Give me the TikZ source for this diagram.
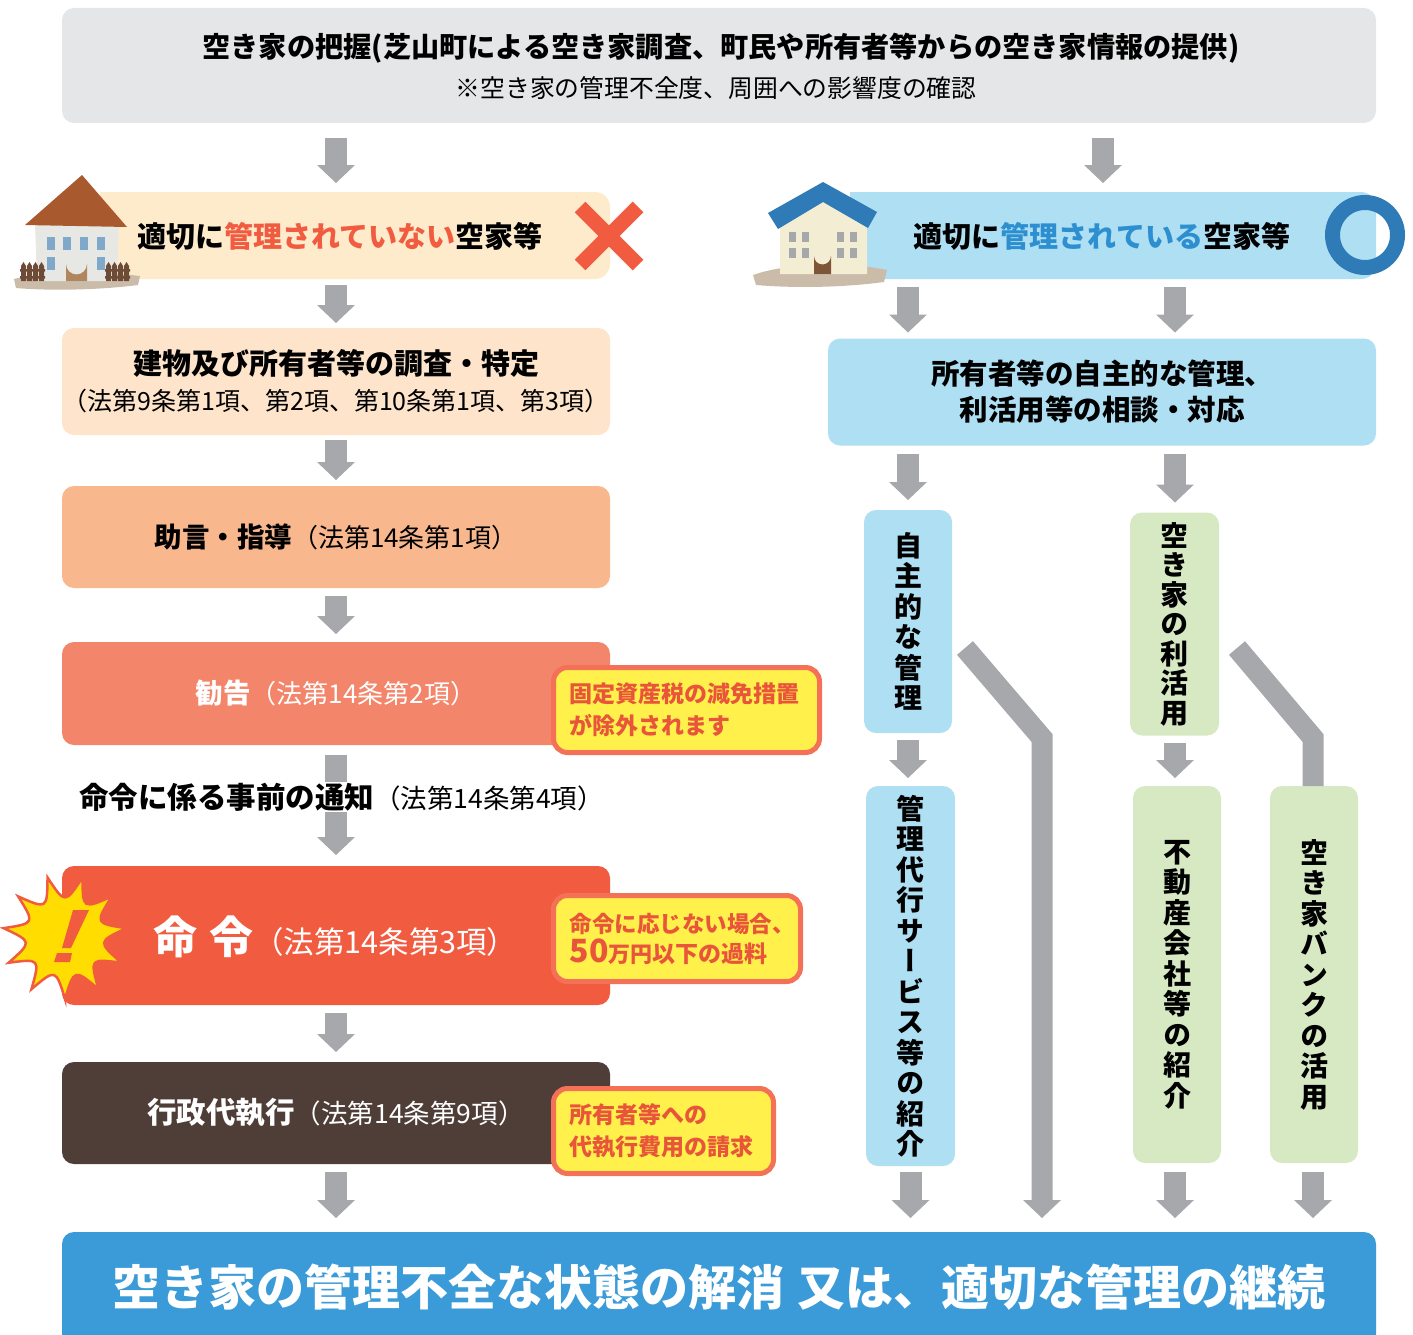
\documentclass[tikz,border=0pt]{standalone}
\usepackage{fontspec}
\setmainfont{Noto Sans CJK JP}
\newfontfamily\vfont{Noto Sans CJK JP}[RawFeature=+vert]
\usetikzlibrary{arrows.meta}

\definecolor{topgray}{HTML}{E5E6E8}
\definecolor{creamband}{HTML}{FEEBCB}
\definecolor{peachA}{HTML}{FDE4CB}
\definecolor{peachB}{HTML}{F9B78E}
\definecolor{salmon}{HTML}{F3866A}
\definecolor{alertred}{HTML}{F15B40}
\definecolor{darkbrown}{HTML}{4F3E38}
\definecolor{skyband}{HTML}{AEDFF3}
\definecolor{leafband}{HTML}{D6E9C3}
\definecolor{resultblue}{HTML}{3A9BD8}
\definecolor{arrowgray}{HTML}{A7A8AC}
\definecolor{ringblue}{HTML}{2F7BB7}
\definecolor{keyblue}{HTML}{2E8FD0}
\definecolor{noteyellow}{HTML}{FFF04B}
\definecolor{noteedge}{HTML}{F47157}
\definecolor{notetext}{HTML}{E8553A}
\definecolor{burstyellow}{HTML}{FFDD00}
\definecolor{roofbrown}{HTML}{A85A2E}
\definecolor{wallgray}{HTML}{E7E8E4}
\definecolor{winblue}{HTML}{7FA8CA}
\definecolor{doortan}{HTML}{B0865F}
\definecolor{fencebrown}{HTML}{6E4B36}
\definecolor{soil}{HTML}{CBBCAA}
\definecolor{wallcream}{HTML}{F3EDD3}
\definecolor{doorbrown}{HTML}{7E5536}

\begin{document}
\begin{tikzpicture}[x=1pt,y=-1pt,
  panel/.style={rounded corners=12, inner sep=0, outer sep=0, align=center},
  vpanel/.style={panel, font=\fontsize{28}{30.5}\selectfont\bfseries\vfont},
  note/.style={rounded corners=14, draw=noteedge, line width=5, fill=noteyellow,
    inner sep=0, outer sep=0},
  notetxt/.style={anchor=west, align=left, text=notetext,
    font=\fontsize{23}{32}\selectfont\bfseries},
  garrow/.style={draw=arrowgray, line width=22, line cap=butt, line join=miter,
    -{Triangle[width=38pt,length=18pt,line width=0pt]}},
  gbar/.style={draw=arrowgray, line width=21, line cap=butt, line join=miter},
]
\useasboundingbox (0,0) rectangle (1413,1335);
\clip (0,0) rectangle (1413,1335);

% column positions
\coordinate (colL) at (336,0);
\coordinate (colR) at (1103,0);
\coordinate (colA) at (908,0);
\coordinate (colB) at (1175,0);
\coordinate (colC) at (1313,0);

% ---------- top panel ----------
\node[panel, fill=topgray, minimum width=1314, minimum height=115] (survey) at (719,65.5) {};
\node (surveyA) at (721,48) {\fontsize{28.2}{30}\selectfont\bfseries 空き家の把握(芝山町による空き家調査、町民や所有者等からの空き家情報の提供)};
\node (surveyB) at (716,88) {\fontsize{24.8}{26}\selectfont ※空き家の管理不全度、周囲への影響度の確認};

% ---------- left band ----------
\node[panel, rounded corners=15, fill=creamband, minimum width=510, minimum height=87] (bandL) at (355,235.5) {};
\fill[creamband] (bandL.north west) rectangle ([xshift=60]bandL.south west);
\node (bandLtext) at (340,236) {\fontsize{29}{32}\selectfont\bfseries 適切に\textcolor{alertred}{管理されていない}空家等};
\draw[alertred, line width=15, line cap=butt] (580,207) -- (638,265) (638,207) -- (580,265);

% left house
\fill[soil] (14,279) .. controls (40,272) and (100,271) .. (140,276) -- (138,285)
  .. controls (100,290) and (50,291) .. (16,288) -- cycle;
\fill[wallgray] (35,222) -- (119,224) -- (117,281) -- (37,281) -- cycle;
\fill[roofbrown] (82,175) -- (127,227) -- (25,225) -- cycle;
\foreach \wx in {47,63,80,97} \fill[winblue] (\wx,237) rectangle ++(8,13);
\foreach \wx in {47,97} \fill[winblue] (\wx,257) rectangle ++(8,13);
\fill[doortan] (66,281) -- (66,264) arc[start angle=180, end angle=0, radius=10.5] -- (87,281) -- cycle;
\foreach \fx in {21,27,33,39,106,112,118,124}
  \fill[fencebrown] (\fx,281) -- (\fx,266) -- (\fx+2.5,262) -- (\fx+5,266) -- (\fx+5,281) -- cycle;
\fill[fencebrown] (20,269) rectangle (45,271.5) (20,276) rectangle (45,278.5);
\fill[fencebrown] (105,269) rectangle (130,271.5) (105,276) rectangle (130,278.5);

% ---------- right band ----------
\node[panel, rounded corners=15, fill=skyband, minimum width=526, minimum height=87] (bandR) at (1113,235.5) {};
\fill[skyband] (bandR.north west) rectangle ([xshift=60]bandR.south west);
\node (bandRtext) at (1102,236) {\fontsize{29}{32}\selectfont\bfseries 適切に\textcolor{keyblue}{管理されている}空家等};
\draw[ringblue, line width=15] (1365,235) circle[radius=32.5];

% right house
\fill[soil] (753,275) .. controls (790,262) and (850,262) .. (887,270) -- (884,282)
  .. controls (840,288) and (790,288) .. (756,285) -- cycle;
\fill[wallcream] (780,226) -- (823,200) -- (867,226) -- (867,274) -- (780,274) -- cycle;
\fill[ringblue] (823,182) -- (877,212) -- (868,228) -- (823,202) -- (778,229) -- (768,213) -- cycle;
\foreach \wx in {789,802,837,850} {
  \fill[arrowgray] (\wx,232) rectangle ++(6.5,10);
  \fill[arrowgray] (\wx,248) rectangle ++(6.5,10);
}
\fill[doorbrown] (814,274) -- (814,256) arc[start angle=180, end angle=0, radius=8.5] -- (831,274) -- cycle;

% ---------- left column ----------
\node[panel, fill=peachA, minimum width=548, minimum height=107,
  font=\fontsize{25}{36}\selectfont] (probe) at (336,381.5)
  {{\fontsize{29}{36}\selectfont\bfseries 建物及び所有者等の調査・特定}\\
   （法第9条第1項、第2項、第10条第1項、第3項）};
\node[panel, fill=peachB, minimum width=548, minimum height=102] (advice) at (336,537)
  {{\fontsize{27.5}{30}\selectfont\bfseries 助言・指導}\fontsize{26}{30}\selectfont（法第14条第1項）};
\node[panel, fill=salmon, minimum width=548, minimum height=103, text=white] (warn) at (336,693.5)
  {{\fontsize{27.5}{30}\selectfont\bfseries 勧告}\fontsize{26}{30}\selectfont（法第14条第2項）};
\node[panel, fill=alertred, minimum width=548, minimum height=139] (order) at (336,935.5) {};
\node[panel, fill=darkbrown, minimum width=548, minimum height=102, text=white] (proxy) at (336,1113)
  {{\fontsize{29.5}{30}\selectfont\bfseries 行政代執行}\fontsize{26.5}{30}\selectfont（法第14条第9項）};

\node[anchor=west, text=white, inner sep=0] (ordertext) at (153,937)
  {{\fontsize{44}{48}\selectfont\bfseries 命\hspace{12pt}令}\fontsize{30.5}{32}\selectfont（法第14条第3項）};

% warning burst
\begin{scope}[shift={(65,937)}]
  \draw[fill=burstyellow, draw=alertred, line width=2.5, line join=miter]
    (90:62) \foreach \i in {1,...,11} { .. controls ({90+360/11*(\i-0.5)}:33) .. ({90+360/11*\i}:62) } -- cycle;
\end{scope}
\fill[alertred] (73,910) -- (89,910) -- (71,948) -- (62,948) -- cycle;
\fill[alertred] (57,953) -- (72,953) -- (70,962) -- (54,962) -- cycle;

% notes
\node[note, minimum width=266, minimum height=85] (note1) at (686.5,710) {};
\node[notetxt] (note1text) at (566,710) {固定資産税の減免措置\\が除外されます};
\node[note, minimum width=247, minimum height=86] (note2) at (677,938.5) {};
\node[notetxt] (note2text) at (566,939)
  {{\fontsize{22.5}{32}\selectfont 命令に応じない場合、}\\[-2pt]
   {\fontsize{32}{32}\selectfont 50}{\fontsize{22}{32}\selectfont 万円}以下の過料};
\node[note, minimum width=220, minimum height=85] (note3) at (663.5,1131) {};
\node[notetxt] (note3text) at (566,1131) {所有者等への\\代執行費用の請求};

% ---------- right column ----------
\node[panel, fill=skyband, minimum width=548, minimum height=107,
  font=\fontsize{28.5}{36}\selectfont\bfseries] (consult) at (1102,392)
  {所有者等の自主的な管理、\\利活用等の相談・対応};
\node[vpanel, fill=skyband, minimum width=88, minimum height=223] (self) at (908,621.5)
  {自\\主\\的\\な\\管\\理};
\node[vpanel, fill=skyband, minimum width=89, minimum height=380] (agent) at (910.5,976)
  {管\\理\\代\\行\\サ\\ー\\ビ\\ス\\等\\の\\紹\\介};
\node[vpanel, fill=leafband, minimum width=89, minimum height=223,
  font=\fontsize{28}{29.5}\selectfont\bfseries\vfont] (reuse) at (1174.5,624)
  {空\\き\\家\\の\\利\\活\\用};
\node[vpanel, fill=leafband, minimum width=88, minimum height=377] (realty) at (1177,974.5)
  {不\\動\\産\\会\\社\\等\\の\\紹\\介};
\node[vpanel, fill=leafband, minimum width=88, minimum height=377] (bank) at (1314,974.5)
  {空\\き\\家\\バ\\ン\\ク\\の\\活\\用};

% ---------- result ----------
\node[panel, fill=resultblue, minimum width=1314, minimum height=130] (result) at (719,1297) {};
\node[text=white] (resulttext) at (719,1287)
  {\fontsize{48}{52}\selectfont\bfseries 空き家の管理不全な状態の解消\hspace{14pt}又は、適切な管理の継続};

% ---------- arrows ----------
\draw[garrow, shorten <=15, shorten >=9] (survey.south -| colL) -- (bandL.north -| colL);
\draw[garrow, shorten <=15, shorten >=9] (survey.south -| colR) -- (bandR.north -| colR);
\draw[garrow, shorten <=6, shorten >=5] (bandL.south -| colL) -- (probe.north);
\draw[garrow, shorten <=5, shorten >=6] (probe) -- (advice.north);
\draw[garrow, shorten <=8, shorten >=8] (advice.south) -- (warn.north);
\draw[garrow, shorten <=10, shorten >=11] (warn.south) -- (order.north);
\draw[garrow, shorten <=8, shorten >=10] (order.south) -- (proxy.north);
\draw[garrow, shorten <=8, shorten >=14] (proxy.south) -- (result.north -| colL);

\draw[garrow, shorten <=8, shorten >=6] (bandR.south -| colA) -- (consult.north -| colA);
\draw[garrow, shorten <=8, shorten >=6] (bandR.south -| colB) -- (consult.north -| colB);
\draw[garrow, shorten <=8, shorten >=10] (consult.south -| colA) -- (self.north);
\draw[garrow, shorten <=8, shorten >=10] (consult.south -| colB) -- (reuse.north -| colB);
\draw[garrow, shorten <=7, shorten >=8] (self.south) -- (self.south |- agent.north);
\draw[garrow, shorten <=7, shorten >=8] (reuse.south -| colB) -- (realty.north -| colB);
\draw[garrow, shorten <=6, shorten >=14] (agent.south) -- (result.north -| agent.south);
\draw[garrow, shorten <=9, shorten >=14] (realty.south -| colB) -- (result.north -| colB);
\draw[garrow, shorten <=9, shorten >=14] (bank.south -| colC) -- (result.north -| colC);

% bypass routes
\coordinate (byA) at (965,648);
\coordinate (byAbend) at (1042,738);
\coordinate (byB) at (1237,648);
\coordinate (byBbend) at (1313,738);
\draw[garrow, line width=21, shorten >=14] (byA) -- (byAbend) -- (byAbend |- result.north);
\draw[gbar] (byB) -- (byBbend) -- (byBbend |- bank.north);

% notice text set in front of the long arrow on a white ground
\node[anchor=west, fill=white, inner xsep=0, inner ysep=1] (notice) at (79,797)
  {{\fontsize{29.5}{30}\selectfont\bfseries 命令に係る事前の通知}\fontsize{26.5}{30}\selectfont（法第14条第4項）};
\end{tikzpicture}
\end{document}
